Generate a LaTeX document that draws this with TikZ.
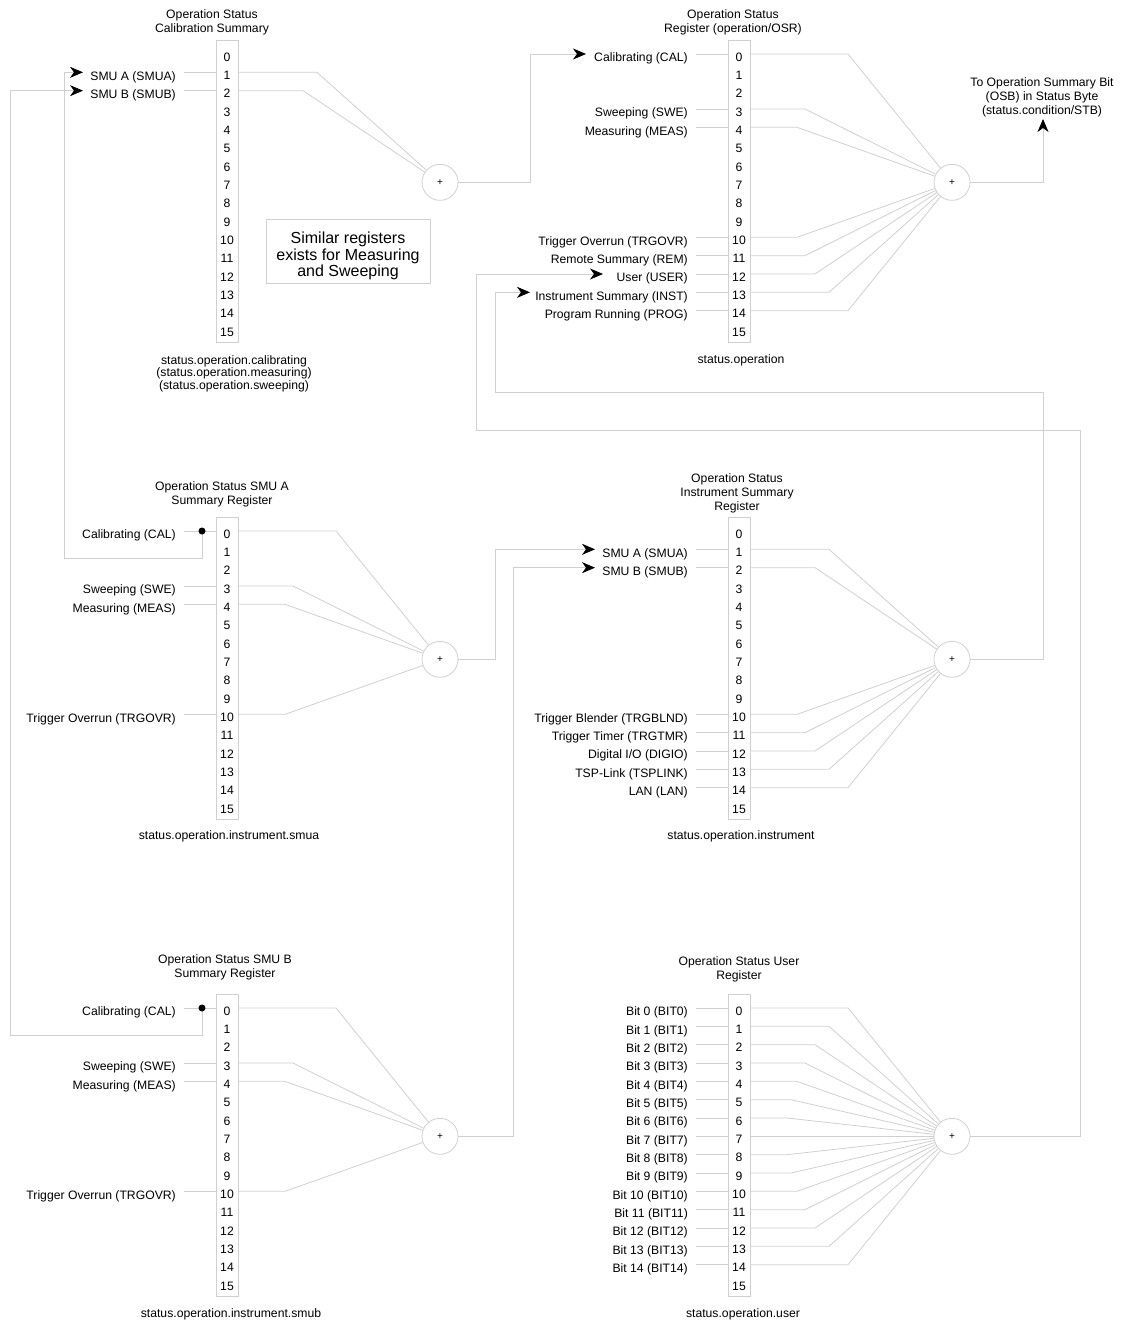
\documentclass[tikz,border=0pt]{standalone}
\usepackage{fontspec}
\setmainfont{Liberation Sans}
\usetikzlibrary{arrows.meta,calc}
\definecolor{lgray}{RGB}{208,208,208}
\newcommand{\myreg}[3]{%
  \node[regbox,anchor=north west] (#1) at (#2,#3) {};
  \foreach \i in {0,...,15}{%
    \node[num] (#1n\i) at ({#2+11},{#3+21.3+18.333*\i}) {\i};
    \coordinate (#1w\i) at (#2,{#3+14+18.333*\i});
    \coordinate (#1e\i) at ({#2+22},{#3+14+18.333*\i});
  }}
\newcommand{\inlbl}[3]{%
  \node[lbl] (#1l#2) at ($(#1w#2)+(-40,7.8)$) {#3};
  \draw[ln] ($(#1w#2)+(-32,0)$) -- (#1w#2);}
\newcommand{\outfan}[3]{%
  \pgfmathtruncatemacro\dd{abs(#2-7)}%
  \pgfmathsetmacro\bb{{0,37,41,47,55,65,79,98}[\dd]}%
  \draw[ln] (#1e#2) -- ++(\bb,0) -- (#3);}
\begin{document}
\begin{tikzpicture}[x=1pt,y=-1pt,
  ln/.style={draw=lgray,line width=0.8pt},
  regbox/.style={draw=lgray,line width=0.8pt,minimum width=22pt,minimum height=302pt,inner sep=0pt},
  num/.style={font=\fontsize{12.2}{14}\selectfont,inner sep=0pt,anchor=base},
  lbl/.style={font=\fontsize{12.2}{14}\selectfont,inner sep=0pt,anchor=base east},
  ttl/.style={font=\fontsize{12.2}{13.8}\selectfont,inner sep=0pt,anchor=north,align=center},
  orgate/.style={circle,draw=lgray,line width=0.8pt,minimum size=36pt,inner sep=0pt,font=\fontsize{10}{10}\selectfont},
  tip/.style={-{Stealth[length=13pt,width=11pt,inset=4pt,color=black]}},
  dotn/.style={circle,fill=black,inner sep=0pt,minimum size=7pt}
]
\fill[white] (0,0) rectangle (1124,1324);
\useasboundingbox (0,0) rectangle (1124,1324);

% registers
\myreg{A}{216}{40}
\myreg{B}{728}{40}
\myreg{C}{216}{517}
\myreg{D}{728}{517}
\myreg{E}{216}{994}
\myreg{F}{728}{994}

% titles
\node[ttl] (tA) at (212,9.4) {Operation Status\\Calibration Summary};
\node[ttl] (tB) at (733,9.4) {Operation Status\\Register (operation/OSR)};
\node[ttl] (tC) at (222,481.4) {Operation Status SMU A\\Summary Register};
\node[ttl] (tD) at (737,473.4) {Operation Status\\Instrument Summary\\Register};
\node[ttl] (tE) at (225,954.4) {Operation Status SMU B\\Summary Register};
\node[ttl] (tF) at (739,956.4) {Operation Status User\\Register};
\node[ttl] (osb) at (1042,77.4) {To Operation Summary Bit\\(OSB) in Status Byte\\(status.condition/STB)};

% captions
\node[ttl,font=\fontsize{12.2}{12.5}\selectfont] (cA) at (234,355.4) {status.operation.calibrating\\(status.operation.measuring)\\(status.operation.sweeping)};
\node[ttl] (cB) at (741,354.4) {status.operation};
\node[ttl] (cC) at (229,830.4) {status.operation.instrument.smua};
\node[ttl] (cD) at (741,830.4) {status.operation.instrument};
\node[ttl] (cE) at (231,1308.4) {status.operation.instrument.smub};
\node[ttl] (cF) at (743,1308.4) {status.operation.user};

% note box
\node[draw=lgray,line width=0.8pt,minimum width=164pt,minimum height=64pt,inner sep=0pt] (sim) at (348,251) {};
\node[inner sep=0pt,align=center,font=\fontsize{16}{16.5}\selectfont] (simtext) at (348,256) {Similar registers\\exists for Measuring\\and Sweeping};

% gates
\node[orgate] (G1) at ($(Ae7)+(202,0)$) {+};
\node[orgate] (G2) at ($(Be7)+(202,0)$) {+};
\node[orgate] (G3) at ($(Ce7)+(202,0)$) {+};
\node[orgate] (G4) at ($(De7)+(202,0)$) {+};
\node[orgate] (G5) at ($(Ee7)+(202,0)$) {+};
\node[orgate] (G6) at ($(Fe7)+(202,0)$) {+};

% input labels
\inlbl{A}{1}{SMU A (SMUA)}
\inlbl{A}{2}{SMU B (SMUB)}

\inlbl{B}{0}{Calibrating (CAL)}
\inlbl{B}{3}{Sweeping (SWE)}
\inlbl{B}{4}{Measuring (MEAS)}
\inlbl{B}{10}{Trigger Overrun (TRGOVR)}
\inlbl{B}{11}{Remote Summary (REM)}
\inlbl{B}{12}{User (USER)}
\inlbl{B}{13}{Instrument Summary (INST)}
\inlbl{B}{14}{Program Running (PROG)}

\inlbl{C}{0}{Calibrating (CAL)}
\inlbl{C}{3}{Sweeping (SWE)}
\inlbl{C}{4}{Measuring (MEAS)}
\inlbl{C}{10}{Trigger Overrun (TRGOVR)}

\inlbl{D}{1}{SMU A (SMUA)}
\inlbl{D}{2}{SMU B (SMUB)}
\inlbl{D}{10}{Trigger Blender (TRGBLND)}
\inlbl{D}{11}{Trigger Timer (TRGTMR)}
\inlbl{D}{12}{Digital I/O (DIGIO)}
\inlbl{D}{13}{TSP-Link (TSPLINK)}
\inlbl{D}{14}{LAN (LAN)}

\inlbl{E}{0}{Calibrating (CAL)}
\inlbl{E}{3}{Sweeping (SWE)}
\inlbl{E}{4}{Measuring (MEAS)}
\inlbl{E}{10}{Trigger Overrun (TRGOVR)}

\foreach \r in {0,...,14}{\inlbl{F}{\r}{Bit \r\ (BIT\r)}}

% output fans
\foreach \r in {1,2}{\outfan{A}{\r}{G1}}
\foreach \r in {0,3,4,10,11,12,13,14}{\outfan{B}{\r}{G2}}
\foreach \r in {0,3,4,10}{\outfan{C}{\r}{G3}}
\foreach \r in {1,2,10,11,12,13,14}{\outfan{D}{\r}{G4}}
\foreach \r in {0,3,4,10}{\outfan{E}{\r}{G5}}
\foreach \r in {0,...,14}{\outfan{F}{\r}{G6}}

% arrow targets
\coordinate (tSA) at ($(Aw1)+(-133,0)$);
\coordinate (tSB) at ($(Aw2)+(-133,0)$);
\coordinate (tCAL) at ($(Bw0)+(-142,0)$);
\coordinate (tUSER) at ($(Bw12)+(-125,0)$);
\coordinate (tINST) at ($(Bw13)+(-198,0)$);
\coordinate (tDA) at ($(Dw1)+(-133,0)$);
\coordinate (tDB) at ($(Dw2)+(-133,0)$);
\coordinate (tOSB) at (1043,119);
\coordinate (pA) at ($(Cw0)+(-14,0)$);
\coordinate (pB) at ($(Ew0)+(-14,0)$);

% summary connectors
\draw[ln,tip] (G1.east) -- ++(72,0) |- (tCAL);
\draw[ln,tip] (G2.east) -| (tOSB);
\draw[ln,tip] (G3.east) -- ++(37,0) |- (tDA);
\draw[ln,tip] (G5.east) -- ++(55,0) |- (tDB);
\draw[ln,tip] (G4.east) -| (1043,392) -| ($(Bw13)+(-233,0)$) -- (tINST);
\draw[ln,tip] (G6.east) -| (1080,430) -| ($(Bw12)+(-252,0)$) -- (tUSER);
\draw[ln,tip] (pA) -- ++(0,27.5) -| ($(Aw1)+(-152,0)$) -- (tSA);
\draw[ln,tip] (pB) -- ++(0,27.5) -| ($(Aw2)+(-206,0)$) -- (tSB);

% dots
\node[dotn] (dA) at (pA) {};
\node[dotn] (dB) at (pB) {};
\end{tikzpicture}
\end{document}
